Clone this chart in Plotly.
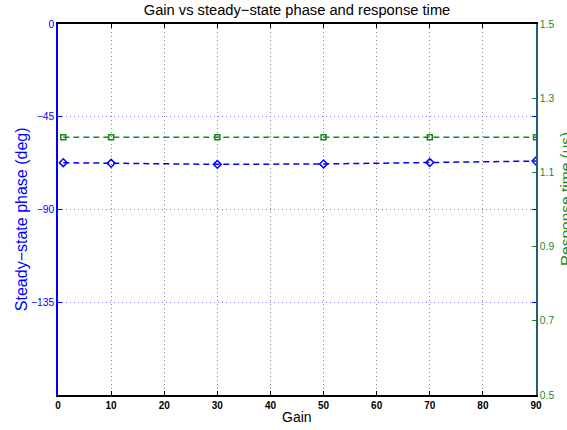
import plotly.graph_objects as go

# Gain sweep results
gain = [1, 10, 30, 50, 70, 90]
phase_deg = [-67.3, -67.6, -68.1, -67.9, -67.2, -66.5]
response_us = [1.195, 1.195, 1.195, 1.195, 1.195, 1.195]

x_ticks = [0, 10, 20, 30, 40, 50, 60, 70, 80, 90]
phase_ticks = [-180, -135, -90, -45, 0]
phase_labels = ["", "\u2212135", "\u221290", "\u221245", "0"]
resp_ticks = [0.5, 0.7, 0.9, 1.1, 1.3, 1.5]

BLUE = "#0000ff"
GREEN = "#1a8a1a"
FONT = "Liberation Sans, Arial, sans-serif"

fig = go.Figure()
fig.add_trace(go.Scatter(
    x=gain, y=phase_deg, mode="lines+markers", yaxis="y",
    line=dict(color=BLUE, width=1.5, dash="6px,4px"),
    marker=dict(symbol="diamond-open", size=6, color=BLUE, line=dict(width=1.5)),
    showlegend=False,
))
fig.add_trace(go.Scatter(
    x=gain, y=response_us, mode="lines+markers", yaxis="y2",
    line=dict(color=GREEN, width=1.5, dash="6px,4px"),
    marker=dict(symbol="square-open", size=5, color=GREEN, line=dict(width=1.5)),
    showlegend=False,
))

fig.update_layout(
    width=567, height=430,
    margin=dict(l=58, r=31, t=24, b=35),
    paper_bgcolor="white", plot_bgcolor="white",
    font=dict(family=FONT, size=10, color="black"),
    title=dict(text="Gain vs steady\u2212state phase and response time",
               x=0.5, xref="paper", xanchor="center",
               y=1 - 10 / 430, yref="container", yanchor="middle",
               font=dict(size=14.7, color="black")),
    xaxis=dict(
        range=[0, 90], tickvals=x_ticks, ticks="inside", ticklen=4,
        tickcolor="black", showline=True, linecolor="black", linewidth=1.5,
        mirror="ticks", showgrid=True, gridcolor="#8c8c8c", griddash="1px,3px",
        gridwidth=1, zeroline=False,
        tickfont=dict(size=10, color="black", weight="bold"),
    ),
    yaxis=dict(
        range=[-180, 0], tickvals=phase_ticks, ticktext=phase_labels,
        ticks="inside", ticklen=4, tickcolor=BLUE, mirror="ticks",
        showline=True, linecolor=BLUE, linewidth=1.5,
        showgrid=True, gridcolor="#7a7aff", griddash="1px,3px", gridwidth=1,
        zeroline=False, tickfont=dict(size=10.3, color=BLUE),
    ),
    yaxis2=dict(
        range=[0.5, 1.5], tickvals=resp_ticks, overlaying="y", side="right",
        ticks="inside", ticklen=4, tickcolor=GREEN,
        showline=True, linecolor="#1f5f7a", linewidth=1.5,
        showgrid=False, zeroline=False,
        tickfont=dict(size=10.3, color=GREEN),
    ),
    annotations=[
        dict(text="Gain", xref="paper", yref="paper", x=0.5, y=0, yshift=-22,
             xanchor="center", yanchor="middle", showarrow=False,
             font=dict(size=14, color="black")),
        dict(text="Steady\u2212state phase (deg)", textangle=-90,
             xref="paper", yref="paper", x=0, xshift=-37, y=0.474,
             xanchor="center", yanchor="middle", showarrow=False,
             font=dict(size=16, color=BLUE)),
        dict(text="Response time (us)", textangle=-90,
             xref="paper", yref="paper", x=1.0, xshift=29, y=0.528,
             xanchor="center", yanchor="middle", showarrow=False,
             font=dict(size=15.5, color=GREEN)),
    ],
)

fig.write_html("out.html")
